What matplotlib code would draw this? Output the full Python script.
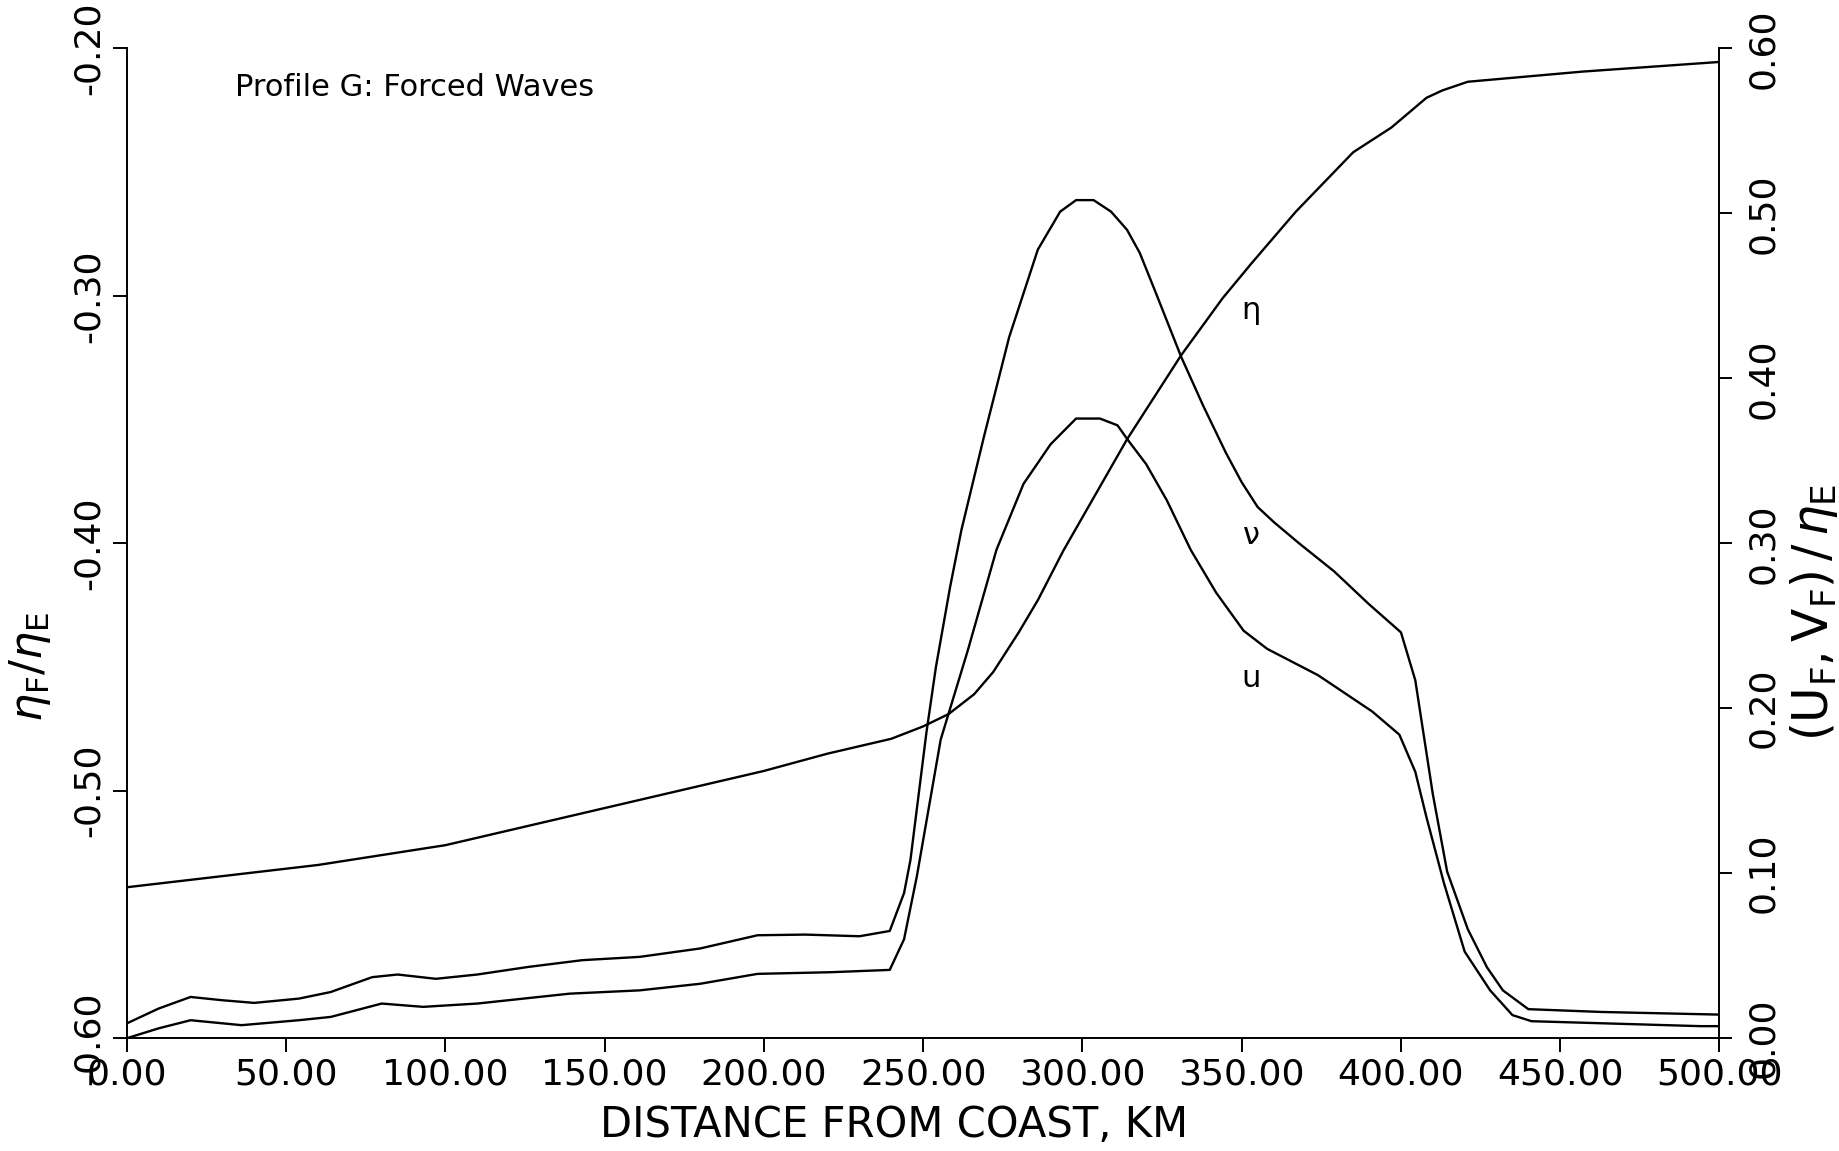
import matplotlib
matplotlib.use("Agg")
import matplotlib.pyplot as plt

plt.rcParams["font.family"] = ["DejaVu Sans"]

# ── data ──────────────────────────────────────────────────────────────────────
# eta_F / eta_E  (left axis)
eta_x = [0, 20, 40, 60, 80, 100, 120, 140, 160, 180, 200, 220, 240, 250,
         258, 266, 272, 280, 286, 294, 314, 331, 344, 353, 367, 385, 397,
         408, 413, 421, 457, 500]
eta_y = [-0.539, -0.536, -0.533, -0.530, -0.526, -0.522, -0.516, -0.510,
         -0.504, -0.498, -0.492, -0.485, -0.479, -0.474, -0.469, -0.461,
         -0.452, -0.436, -0.423, -0.403, -0.358, -0.324, -0.301, -0.287,
         -0.266, -0.242, -0.232, -0.220, -0.217, -0.2135, -0.2094, -0.2055]

# V_F / eta_E  (right axis)
v_x = [0, 10, 20, 30, 40, 54, 64, 77, 85, 97, 110, 126, 143, 161, 180, 198,
       213, 230, 239.5, 244, 246, 251, 254, 258.5, 262, 269, 277, 286, 293,
       298, 303.5, 309, 314, 318, 323, 331, 338, 345, 350, 355, 360, 368,
       379, 390, 400, 404.5, 410, 414.5, 421, 427, 432, 440, 463, 500]
v_y = [0.009, 0.018, 0.025, 0.023, 0.0214, 0.024, 0.028, 0.037, 0.0386,
       0.036, 0.0386, 0.0432, 0.0473, 0.0493, 0.0544, 0.0624, 0.0628, 0.0618,
       0.065, 0.088, 0.108, 0.185, 0.225, 0.274, 0.308, 0.364, 0.425, 0.478,
       0.501, 0.508, 0.508, 0.501, 0.490, 0.476, 0.452, 0.413, 0.383, 0.355,
       0.337, 0.322, 0.313, 0.300, 0.283, 0.263, 0.246, 0.217, 0.148, 0.101,
       0.066, 0.043, 0.029, 0.0176, 0.0159, 0.0143]

# U_F / eta_E  (right axis)
u_x = [0, 10, 20, 36, 54, 64, 80, 93, 110, 139, 161, 180, 198, 221, 239.5,
       244, 248, 255.5, 264, 273, 281.5, 290, 298, 305.5, 311, 314.5, 320,
       326.5, 334, 342, 350.6, 358, 368, 374, 391, 399.5, 404.5, 408, 413.5,
       420, 428, 435, 441, 494, 500]
u_y = [0.0, 0.006, 0.0109, 0.0079, 0.0109, 0.0129, 0.021, 0.019, 0.021,
       0.027, 0.029, 0.033, 0.039, 0.040, 0.0414, 0.060, 0.098, 0.181, 0.235,
       0.296, 0.336, 0.360, 0.3756, 0.3756, 0.3715, 0.362, 0.348, 0.326,
       0.296, 0.270, 0.247, 0.236, 0.226, 0.220, 0.198, 0.184, 0.1615, 0.134,
       0.094, 0.0525, 0.029, 0.014, 0.0103, 0.0073, 0.0073]

x_ticks = [0, 50, 100, 150, 200, 250, 300, 350, 400, 450, 500]
x_labels = ["0.00", "50.00", "100.00", "150.00", "200.00", "250.00",
            "300.00", "350.00", "400.00", "450.00", "500.00"]
left_ticks = [-0.60, -0.50, -0.40, -0.30, -0.20]
left_labels = ["-0.60", "-0.50", "-0.40", "-0.30", "-0.20"]
right_ticks = [0.0, 0.1, 0.2, 0.3, 0.4, 0.5, 0.6]
right_labels = ["0.00", "0.10", "0.20", "0.30", "0.40", "0.50", "0.60"]

# ── figure ────────────────────────────────────────────────────────────────────
fig = plt.figure(figsize=(18.39, 11.51), dpi=100)
ax = fig.add_axes([0.069, 0.098, 0.866, 0.86])
ax2 = ax.twinx()

lw = 1.7
ax.plot(eta_x, eta_y, color="black", lw=lw)
ax2.plot(v_x, v_y, color="black", lw=lw)
ax2.plot(u_x, u_y, color="black", lw=lw)

ax.set_xlim(0, 500)
ax.set_ylim(-0.6, -0.2)
ax2.set_ylim(0, 0.6)

for a in (ax, ax2):
    a.spines["top"].set_visible(False)
    for s in a.spines.values():
        s.set_linewidth(1.4)
ax.spines["right"].set_visible(False)
ax2.spines["left"].set_visible(False)
ax2.spines["bottom"].set_visible(False)

tick_fs = 26
ax.set_xticks(x_ticks)
ax.set_xticklabels(x_labels, fontsize=tick_fs)
ax.set_yticks(left_ticks)
ax.set_yticklabels(left_labels, fontsize=tick_fs, rotation=90, va="center")
ax2.set_yticks(right_ticks)
ax2.set_yticklabels(right_labels, fontsize=tick_fs, rotation=90, va="center")

ax.tick_params(axis="x", direction="out", length=10, width=1.4, pad=4)
ax.tick_params(axis="y", direction="out", length=10, width=1.4, pad=5)
ax2.tick_params(axis="y", direction="out", length=9, width=1.4, pad=10)

ax.set_xlabel("DISTANCE FROM COAST, KM", fontsize=30, labelpad=9)
ax.xaxis.label.set_x(0.482)
ax.set_ylabel(r"$\eta_{\mathrm{F}}/\eta_{\mathrm{E}}$", fontsize=32,
              labelpad=14)
ax.yaxis.label.set_y(0.375)
ax2.set_ylabel(r"$(\mathrm{U_F}{,}\,\mathrm{V_F})\,/\,\eta_{\mathrm{E}}$",
               fontsize=35, labelpad=6)
ax2.yaxis.label.set_y(0.43)

ax.text(0.068, 0.975, "Profile G: Forced Waves", transform=ax.transAxes,
        fontsize=22, ha="left", va="top")

ax.text(353, -0.306, "η", fontsize=22, ha="center", va="center")
ax2.text(353, 0.305, "ν", fontsize=22, ha="center", va="center")
ax2.text(353, 0.218, "u", fontsize=22, ha="center", va="center")

fig.savefig("out.png", dpi=100)
